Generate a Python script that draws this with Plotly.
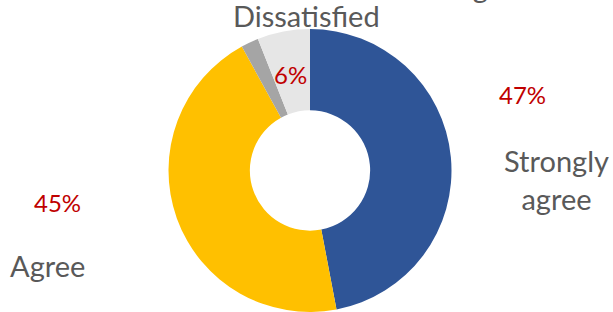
import plotly.graph_objects as go

W, H = 613, 312

# ---- data ----
categories = ["Strongly agree", "Agree", "Disagree", "Dissatisfied"]
values = [47, 45, 2, 6]
colors = ["#2F5597", "#FFC000", "#A5A5A5", "#E6E6E6"]
category_label_text = ["Strongly<br>agree", "Agree", "Disagree", "Dissatisfied"]
show_percent = [True, True, False, True]

# ---- label placement (pixels from top-left) ----
cat_pos = [(556, 180), (48, 265), (472, -13), (306, 15)]
pct_pos = [(522, 94), (57, 202), None, (290, 74)]

fig = go.Figure(go.Pie(
    labels=categories,
    values=values,
    marker=dict(colors=colors, line=dict(width=0)),
    hole=0.425,
    sort=False,
    direction="clockwise",
    rotation=0,
    textinfo="none",
    hoverinfo="label+percent",
    domain=dict(x=[167 / W, 453 / W], y=[0, 1 - 29 / H]),
    showlegend=False,
))

total = sum(values)
annotations = []
font_family = "Lato, 'Open Sans', sans-serif"
for i, cat in enumerate(categories):
    cx, cy = cat_pos[i]
    annotations.append(dict(
        text=category_label_text[i], x=cx / W, y=1 - cy / H,
        xref="paper", yref="paper", xanchor="center", yanchor="middle",
        showarrow=False, font=dict(family=font_family, size=29, color="#595959"),
    ))
    if show_percent[i]:
        px, py = pct_pos[i]
        annotations.append(dict(
            text=f"{round(values[i] / total * 100)}%", x=px / W, y=1 - py / H,
            xref="paper", yref="paper", xanchor="center", yanchor="middle",
            showarrow=False, font=dict(family=font_family, size=24, color="#C00000"),
        ))

fig.update_layout(
    width=W, height=H,
    margin=dict(l=0, r=0, t=0, b=0),
    paper_bgcolor="white", plot_bgcolor="white",
    annotations=annotations,
)

fig.write_html(
    "out.html",
    config={"displayModeBar": False},
    post_script="document.body.style.margin='0';document.body.style.overflow='hidden';",
)
